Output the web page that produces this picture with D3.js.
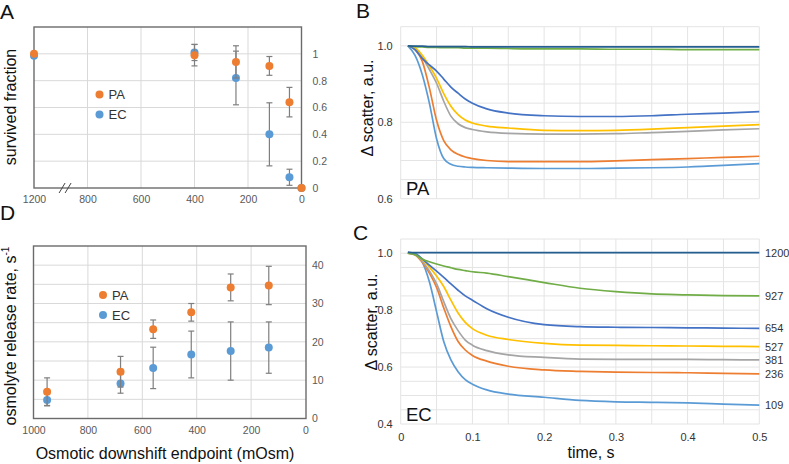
<!DOCTYPE html>
<html>
<head>
<meta charset="utf-8">
<script src="https://cdn.jsdelivr.net/npm/d3@7"></script>
<style>
  body { margin: 0; background: #fff; }
  svg { font-family: "Liberation Sans", Arial, sans-serif; }
</style>
</head>
<body>
<script>
// ---- panel A: survived fraction vs osmotic downshift endpoint
const survOsm = [1200, 400, 245, 120, 45, 0];
const survPA = [1.0, 0.99, 0.94, 0.91, 0.64, 0.0];
const survPAErr = [0, 0.08, 0.12, 0.07, 0.11, 0];
const survEC = [0.985, 1.01, 0.82, 0.40, 0.08, 0.0];
const survECErr = [0, 0.06, 0.2, 0.235, 0.06, 0];
const survTicks = [1000, 800, 600, 400, 200, 0];
const survTickLabels = ['1200', '800', '600', '400', '200', '0'];
const survYTicks = [0, 0.2, 0.4, 0.6, 0.8, 1];

// ---- panel D: osmolyte release rate
const rateOsm = [950, 680, 560, 420, 275, 135];
const ratePA = [7.0, 12.2, 23.3, 27.7, 34.2, 34.7];
const ratePAErr = [3.6, 4.0, 2.4, 2.3, 3.5, 5.0];
const rateEC = [4.8, 9.1, 13.2, 16.7, 17.6, 18.5];
const rateECErr = [1.5, 2.5, 5.4, 6.1, 7.6, 6.7];
const rateTicks = [1000, 800, 600, 400, 200, 0];
const rateYTicks = [0, 10, 20, 30, 40];

// ---- panels B and C: scatter traces
const traceTime = [0.01, 0.02, 0.03, 0.04, 0.05, 0.06, 0.07, 0.08, 0.09, 0.10,
                   0.12, 0.15, 0.20, 0.25, 0.30, 0.35, 0.40, 0.45, 0.50];
const traceOsm = ['109', '236', '381', '527', '654', '927', '1200'];

const pa109  = [1.0, 0.975, 0.925, 0.85, 0.757, 0.705, 0.69, 0.685, 0.683, 0.682, 0.681, 0.68, 0.679, 0.679, 0.68, 0.681, 0.683, 0.687, 0.692];
const pa236  = [1.0, 0.99, 0.96, 0.89, 0.805, 0.752, 0.728, 0.716, 0.709, 0.705, 0.70, 0.697, 0.697, 0.697, 0.699, 0.702, 0.705, 0.708, 0.711];
const pa381  = [1.0, 0.993, 0.97, 0.938, 0.902, 0.855, 0.816, 0.796, 0.786, 0.781, 0.775, 0.771, 0.769, 0.769, 0.77, 0.773, 0.776, 0.78, 0.783];
const pa527  = [1.0, 0.995, 0.975, 0.947, 0.915, 0.875, 0.842, 0.82, 0.806, 0.798, 0.79, 0.785, 0.779, 0.778, 0.779, 0.782, 0.786, 0.79, 0.794];
const pa654  = [1.0, 0.99, 0.967, 0.95, 0.934, 0.913, 0.892, 0.876, 0.861, 0.85, 0.835, 0.824, 0.817, 0.815, 0.815, 0.817, 0.821, 0.824, 0.828];
const pa927  = [1.0, 0.998, 0.997, 0.996, 0.996, 0.995, 0.995, 0.995, 0.994, 0.994, 0.994, 0.993, 0.992, 0.992, 0.991, 0.991, 0.99, 0.99, 0.99];
const pa1200 = [1.0, 0.999, 0.999, 0.998, 0.998, 0.998, 0.998, 0.998, 0.998, 0.997, 0.997, 0.997, 0.997, 0.997, 0.997, 0.997, 0.997, 0.997, 0.997];

const ec109  = [1.0, 1.0, 0.97, 0.90, 0.795, 0.69, 0.625, 0.584, 0.556, 0.54, 0.52, 0.505, 0.494, 0.483, 0.478, 0.476, 0.474, 0.47, 0.466];
const ec236  = [1.0, 0.994, 0.968, 0.93, 0.88, 0.808, 0.742, 0.69, 0.66, 0.641, 0.621, 0.603, 0.59, 0.585, 0.582, 0.581, 0.58, 0.578, 0.576];
const ec381  = [1.0, 0.996, 0.972, 0.938, 0.893, 0.83, 0.77, 0.728, 0.695, 0.677, 0.658, 0.643, 0.634, 0.628, 0.627, 0.627, 0.627, 0.626, 0.625];
const ec527  = [1.0, 0.997, 0.978, 0.951, 0.92, 0.883, 0.835, 0.79, 0.757, 0.735, 0.712, 0.697, 0.683, 0.677, 0.676, 0.675, 0.674, 0.673, 0.672];
const ec654  = [1.0, 0.998, 0.98, 0.958, 0.937, 0.915, 0.892, 0.87, 0.85, 0.835, 0.805, 0.775, 0.749, 0.742, 0.74, 0.739, 0.738, 0.737, 0.736];
const ec927  = [1.0, 0.995, 0.98, 0.97, 0.962, 0.955, 0.949, 0.943, 0.939, 0.935, 0.93, 0.918, 0.897, 0.877, 0.865, 0.857, 0.854, 0.851, 0.85];
const ec1200 = [1.004, 1.002, 1.002, 1.002, 1.002, 1.002, 1.002, 1.002, 1.002, 1.002, 1.002, 1.002, 1.002, 1.002, 1.002, 1.002, 1.002, 1.002, 1.002];

const traceColors = ['#5B9BD5', '#ED7D31', '#A5A5A5', '#FFC000', '#4472C4', '#70AD47', '#255E91'];
const orange = '#ED7D31', blue = '#5B9BD5';

const svg = d3.select('body').append('svg')
  .attr('width', 789)
  .attr('height', 464);

// panel letters
[['A', 0, 19], ['D', 0, 220], ['B', 356, 18], ['C', 353, 240]].forEach(([t, x, y]) => {
  svg.append('text').attr('x', x).attr('y', y).style('font-size', '21px').attr('fill', '#111').text(t);
});

// ---------- dot panels (A and D) ----------
function dotPanel(o) {
  const g = svg.append('g');
  const x = d3.scaleLinear().domain([1000, 0]).range([o.left, o.xEnd]);
  const y = d3.scaleLinear().domain(o.yDomain).range([o.bottom, o.top]);

  // grid
  g.selectAll('.vg').data(o.xTicks.filter(d => d < 1000 && d > 0)).enter().append('line')
    .attr('x1', d => x(d)).attr('x2', d => x(d))
    .attr('y1', o.top).attr('y2', o.bottom)
    .attr('stroke', '#d9d9d9').attr('stroke-width', 1);
  g.selectAll('.hg').data(o.yGrid).enter().append('line')
    .attr('x1', o.left).attr('x2', o.right)
    .attr('y1', d => y(d)).attr('y2', d => y(d))
    .attr('stroke', '#d9d9d9').attr('stroke-width', 1);

  g.append('rect')
    .attr('x', o.left).attr('y', o.top)
    .attr('width', o.right - o.left).attr('height', o.bottom - o.top)
    .attr('fill', 'none').attr('stroke', '#6b6b6b').attr('stroke-width', 1.4);

  const xAxis = g.append('g')
    .attr('transform', `translate(0,${o.bottom})`)
    .call(d3.axisBottom(x).tickValues(o.xTicks).tickSize(0).tickPadding(8)
      .tickFormat((d, i) => o.xLabels ? o.xLabels[i] : d));
  xAxis.select('.domain').remove();
  xAxis.selectAll('text').style('font-size', '10.5px').attr('fill', '#595959');

  const yAxis = g.append('g')
    .attr('transform', `translate(${o.right},0)`)
    .call(d3.axisRight(y).tickValues(o.yTicks).tickSize(0).tickPadding(o.yPad)
      .tickFormat(d => String(d)));
  yAxis.select('.domain').remove();
  yAxis.selectAll('text').style('font-size', '10.5px').attr('fill', '#595959');

  const px = d => x(Math.min(d, 1000));

  // series: EC first, PA on top
  [[o.ec, o.ecErr, blue], [o.pa, o.paErr, orange]].forEach(([vals, errs, col]) => {
    const pts = o.xs.map((d, i) => ({ x: d, v: vals[i], e: errs[i] }));
    const eb = g.append('g');
    pts.filter(p => p.e > 0).forEach(p => {
      const cx = px(p.x);
      const y0 = y(Math.max(o.yDomain[0], p.v - p.e)), y1 = y(p.v + p.e);
      eb.append('line').attr('x1', cx).attr('x2', cx).attr('y1', y0).attr('y2', y1)
        .attr('stroke', '#7f7f7f').attr('stroke-width', 1.2);
      [y0, y1].forEach(yy => eb.append('line')
        .attr('x1', cx - 3).attr('x2', cx + 3).attr('y1', yy).attr('y2', yy)
        .attr('stroke', '#7f7f7f').attr('stroke-width', 1.2));
    });
    g.selectAll(null).data(pts).enter().append('circle')
      .attr('cx', p => px(p.x)).attr('cy', p => y(p.v)).attr('r', 4)
      .attr('fill', col);
  });

  // legend
  [['PA', orange], ['EC', blue]].forEach(([t, c], i) => {
    g.append('circle').attr('cx', o.legX).attr('cy', o.legY + i * 20).attr('r', 4).attr('fill', c);
    g.append('text').attr('x', o.legX + 9).attr('y', o.legY + i * 20 + 4.5)
      .style('font-size', '13px').attr('fill', '#333').text(t);
  });

  // y label
  const yl = g.append('text')
    .attr('transform', `translate(${o.ylabX},${o.ylabY}) rotate(-90)`)
    .attr('text-anchor', 'middle').style('font-size', '16px').attr('fill', '#111');
  yl.append('tspan').text(o.ylab);
  if (o.ylabSup) yl.append('tspan').attr('dy', -7).style('font-size', '10px').text(o.ylabSup);
  return { g, x, y };
}

const pA = dotPanel({
  left: 34, right: 301.5, xEnd: 301.5, top: 27, bottom: 188,
  yDomain: [0, 1.2], yGrid: [0.2, 0.4, 0.6, 0.8, 1.0], yTicks: survYTicks, yPad: 11,
  xTicks: survTicks, xLabels: survTickLabels,
  xs: survOsm, pa: survPA, paErr: survPAErr, ec: survEC, ecErr: survECErr,
  legX: 99.5, legY: 94.5, ylab: 'survived fraction', ylabX: 16, ylabY: 107
});
// axis break mark between 1200 and 800
[0, 6].forEach(dx => {
  const bx = pA.x(895) + dx;
  svg.append('line').attr('x1', bx - 3).attr('x2', bx + 3).attr('y1', 193).attr('y2', 183)
    .attr('stroke', '#444').attr('stroke-width', 1);
});

dotPanel({
  left: 33.5, right: 306, xEnd: 305.5, top: 246, bottom: 418.5,
  yDomain: [0, 45], yGrid: d3.range(5, 45, 5), yTicks: rateYTicks, yPad: 6,
  xTicks: rateTicks, xLabels: null,
  xs: rateOsm, pa: ratePA, paErr: ratePAErr, ec: rateEC, ecErr: rateECErr,
  legX: 103, legY: 295, ylab: 'osmolyte release rate, s', ylabSup: '-1', ylabX: 16, ylabY: 336
});

svg.append('text').attr('x', 165).attr('y', 459).attr('text-anchor', 'middle')
  .style('font-size', '16px').attr('fill', '#111').text('Osmotic downshift endpoint (mOsm)');

// ---------- trace panels (B and C) ----------
function tracePanel(o) {
  const g = svg.append('g');
  const x = d3.scaleLinear().domain([0, 0.5]).range([400.7, 759.3]);
  const y = d3.scaleLinear().domain([o.yMin, 1.05]).range([o.bottom, o.top]);

  g.selectAll('.vg').data(d3.range(0, 11).map(i => i * 0.05)).enter().append('line')
    .attr('x1', d => x(d)).attr('x2', d => x(d)).attr('y1', y(1.05)).attr('y2', y(o.yMin))
    .attr('stroke', '#e4e4e4');
  const nH = Math.round((1.05 - o.yMin) / 0.05);
  g.selectAll('.hg').data(d3.range(0, nH + 1).map(i => o.yMin + i * 0.05)).enter().append('line')
    .attr('x1', x(0)).attr('x2', x(0.5)).attr('y1', d => y(d)).attr('y2', d => y(d))
    .attr('stroke', '#e4e4e4');

  const yAxis = g.append('g').attr('transform', `translate(${x(0)},0)`)
    .call(d3.axisLeft(y).tickValues(o.yTicks).tickSize(0).tickPadding(8).tickFormat(d3.format('.1f')));
  yAxis.select('.domain').remove();
  yAxis.selectAll('text').style('font-size', '11px').attr('fill', '#333');

  if (o.showX) {
    const xAxis = g.append('g').attr('transform', `translate(0,${o.bottom})`)
      .call(d3.axisBottom(x).tickValues([0, 0.1, 0.2, 0.3, 0.4, 0.5]).tickSize(0).tickPadding(9)
        .tickFormat(d => d === 0 ? '0' : d3.format('.1f')(d)));
    xAxis.select('.domain').remove();
    xAxis.selectAll('text').style('font-size', '11px').attr('fill', '#333');
  }

  const line = d3.line().x((d, i) => x(traceTime[i])).y(d => y(d)).curve(d3.curveMonotoneX);
  o.series.forEach((s, k) => {
    g.append('path').datum(s).attr('d', line)
      .attr('fill', 'none').attr('stroke', traceColors[k]).attr('stroke-width', 1.7);
  });

  if (o.endLabels) {
    o.series.forEach((s, k) => {
      g.append('text').attr('x', 765).attr('y', y(s[s.length - 1]) + 4)
        .style('font-size', '11px').attr('fill', '#333').text(traceOsm[k]);
    });
  }

  g.append('text').attr('x', 406).attr('y', o.tagY).style('font-size', '18.5px').attr('fill', '#111').text(o.tag);
  g.append('text')
    .attr('transform', `translate(${o.ylabX},${o.ylabY}) rotate(-90)`)
    .attr('text-anchor', 'middle').style('font-size', '16px').attr('fill', '#111')
    .text('\u0394 scatter, a.u.');
}

tracePanel({
  top: 26.7, bottom: 198.7, yMin: 0.6, yTicks: [0.6, 0.8, 1.0], showX: false,
  series: [pa109, pa236, pa381, pa527, pa654, pa927, pa1200],
  tag: 'PA', tagY: 195, ylabX: 373, ylabY: 108, endLabels: false
});
tracePanel({
  top: 239, bottom: 424, yMin: 0.4, yTicks: [0.4, 0.6, 0.8, 1.0], showX: true,
  series: [ec109, ec236, ec381, ec527, ec654, ec927, ec1200],
  tag: 'EC', tagY: 420.5, ylabX: 377, ylabY: 322, endLabels: true
});

svg.append('text').attr('x', 591).attr('y', 458).attr('text-anchor', 'middle')
  .style('font-size', '16px').attr('fill', '#111').text('time, s');
</script>
</body>
</html>
